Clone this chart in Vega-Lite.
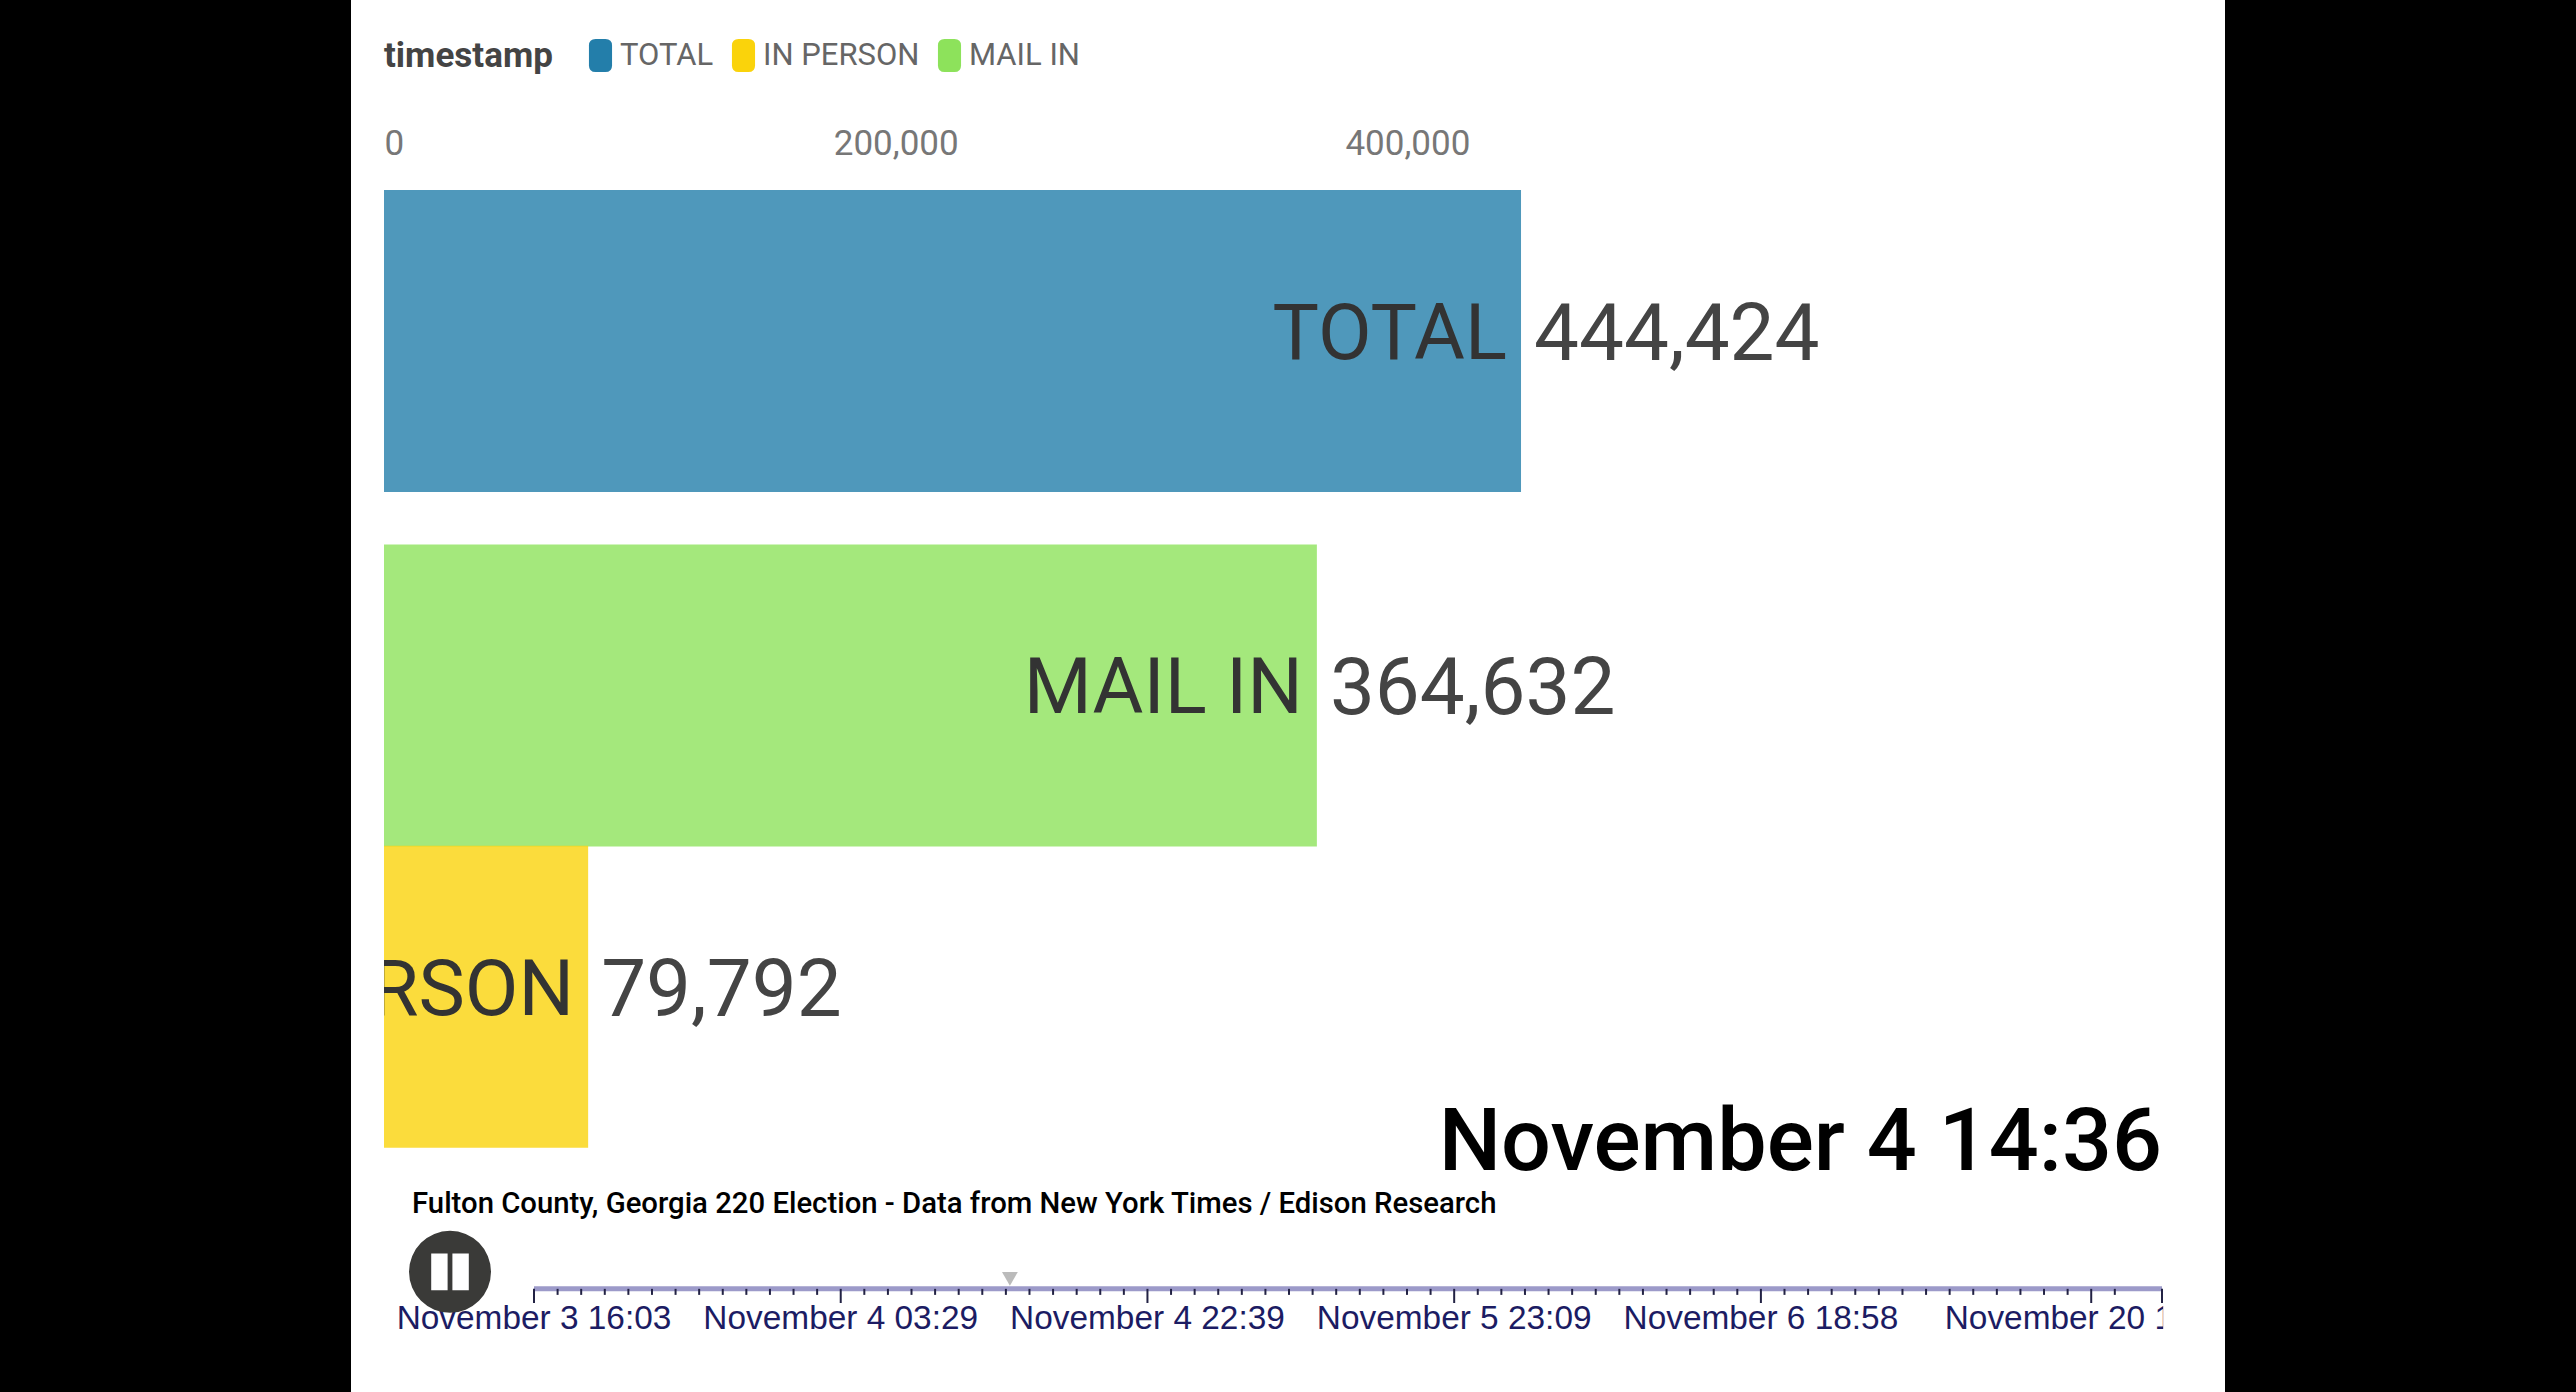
{
"$schema":"https://vega.github.io/schema/vega-lite/v6.json",
"autosize":{"type":"none"},
"width":1874,"height":1392,
"padding":{"left":351,"right":351,"top":0,"bottom":0},
"background":"#000000",
"config":{"font":"Roboto","view":{"fill":"#ffffff","stroke":null}},
"datasets":{
"bars":[
{"timestamp":"TOTAL","votes":444424,"rank":0},
{"timestamp":"MAIL IN","votes":364632,"rank":1},
{"timestamp":"IN PERSON","votes":79792,"rank":1.85}
],
"mask":[{"from":-12899,"to":0,"top":1.4,"bottom":2.3}],
"track":[{"start":0,"end":69,"rank":2.674}],
"ticks":[
{"frame":0,"rank":2.674,"end":2.714,"kind":"major"},{"frame":13,"rank":2.674,"end":2.714,"kind":"major"},{"frame":26,"rank":2.674,"end":2.714,"kind":"major"},{"frame":39,"rank":2.674,"end":2.714,"kind":"major"},{"frame":52,"rank":2.674,"end":2.714,"kind":"major"},{"frame":66,"rank":2.674,"end":2.714,"kind":"major"},{"frame":69,"rank":2.674,"end":2.714,"kind":"major"},
{"frame":1,"rank":2.674,"end":2.691},{"frame":2,"rank":2.674,"end":2.691},{"frame":3,"rank":2.674,"end":2.691},{"frame":4,"rank":2.674,"end":2.691},{"frame":5,"rank":2.674,"end":2.691},{"frame":6,"rank":2.674,"end":2.691},{"frame":7,"rank":2.674,"end":2.691},{"frame":8,"rank":2.674,"end":2.691},{"frame":9,"rank":2.674,"end":2.691},{"frame":10,"rank":2.674,"end":2.691},{"frame":11,"rank":2.674,"end":2.691},{"frame":12,"rank":2.674,"end":2.691},
{"frame":14,"rank":2.674,"end":2.691},{"frame":15,"rank":2.674,"end":2.691},{"frame":16,"rank":2.674,"end":2.691},{"frame":17,"rank":2.674,"end":2.691},{"frame":18,"rank":2.674,"end":2.691},{"frame":19,"rank":2.674,"end":2.691},{"frame":20,"rank":2.674,"end":2.691},{"frame":21,"rank":2.674,"end":2.691},{"frame":22,"rank":2.674,"end":2.691},{"frame":23,"rank":2.674,"end":2.691},{"frame":24,"rank":2.674,"end":2.691},{"frame":25,"rank":2.674,"end":2.691},
{"frame":27,"rank":2.674,"end":2.691},{"frame":28,"rank":2.674,"end":2.691},{"frame":29,"rank":2.674,"end":2.691},{"frame":30,"rank":2.674,"end":2.691},{"frame":31,"rank":2.674,"end":2.691},{"frame":32,"rank":2.674,"end":2.691},{"frame":33,"rank":2.674,"end":2.691},{"frame":34,"rank":2.674,"end":2.691},{"frame":35,"rank":2.674,"end":2.691},{"frame":36,"rank":2.674,"end":2.691},{"frame":37,"rank":2.674,"end":2.691},{"frame":38,"rank":2.674,"end":2.691},
{"frame":40,"rank":2.674,"end":2.691},{"frame":41,"rank":2.674,"end":2.691},{"frame":42,"rank":2.674,"end":2.691},{"frame":43,"rank":2.674,"end":2.691},{"frame":44,"rank":2.674,"end":2.691},{"frame":45,"rank":2.674,"end":2.691},{"frame":46,"rank":2.674,"end":2.691},{"frame":47,"rank":2.674,"end":2.691},{"frame":48,"rank":2.674,"end":2.691},{"frame":49,"rank":2.674,"end":2.691},{"frame":50,"rank":2.674,"end":2.691},{"frame":51,"rank":2.674,"end":2.691},
{"frame":53,"rank":2.674,"end":2.691},{"frame":54,"rank":2.674,"end":2.691},{"frame":55,"rank":2.674,"end":2.691},{"frame":56,"rank":2.674,"end":2.691},{"frame":57,"rank":2.674,"end":2.691},{"frame":58,"rank":2.674,"end":2.691},{"frame":59,"rank":2.674,"end":2.691},{"frame":60,"rank":2.674,"end":2.691},{"frame":61,"rank":2.674,"end":2.691},{"frame":62,"rank":2.674,"end":2.691},{"frame":63,"rank":2.674,"end":2.691},{"frame":64,"rank":2.674,"end":2.691},{"frame":65,"rank":2.674,"end":2.691},{"frame":67,"rank":2.674,"end":2.691}
],
"dates":[
{"frame":0,"rank":2.787,"label":"November 3 16:03"},
{"frame":13,"rank":2.787,"label":"November 4 03:29"},
{"frame":26,"rank":2.787,"label":"November 4 22:39"},
{"frame":39,"rank":2.787,"label":"November 5 23:09"},
{"frame":52,"rank":2.787,"label":"November 6 18:58"}
],
"lastDate":[{"frame":69,"rank":2.787,"label":"November 20 1"}],
"lastMask":[{"from":69.05,"to":71.6,"top":2.72,"bottom":2.82}],
"clock":[{"frame":69,"rank":2.339,"label":"November 4 14:36"}],
"caption":[{"frame":-5.17,"rank":2.461,"label":"Fulton County, Georgia 220 Election - Data from New York Times / Edison Research"}],
"handle":[{"frame":20.17,"rank":2.646}],
"button":[{"frame":-3.56,"rank":2.626}]
},
"layer":[
{"layer":[
{"data":{"name":"bars"},
"mark":{"type":"bar","orient":"horizontal","size":302,"opacity":0.8},
"encoding":{
"x":{"field":"votes","type":"quantitative","scale":{"domain":[-12899,719590],"nice":false,"zero":false},
"axis":{"orient":"top","offset":-161,"values":[0,200000,400000],"labelExpr":"format(datum.value,',')","title":null,"domain":false,"ticks":false,"grid":false,"labelFontSize":35,"labelColor":"#777777","labelFont":"Roboto","labelPadding":0,"labelFlush":false,"labelAlign":{"expr":"datum.value==0?'left':'center'"}}},
"y":{"field":"rank","type":"quantitative","scale":{"domain":[-0.962,2.965],"reverse":true,"nice":false,"zero":false,"padding":0},"axis":null},
"color":{"field":"timestamp","type":"nominal","sort":["TOTAL","IN PERSON","MAIL IN"],
"scale":{"domain":["TOTAL","IN PERSON","MAIL IN"],"range":["#237eaa","#fad30b","#8de25b"]},
"legend":{"orient":"none","legendX":33,"legendY":39,"direction":"horizontal","title":"timestamp","titleOrient":"left","titleFontSize":35,"titleFont":"Roboto","titleFontWeight":700,"titleColor":"#444444","titlePadding":31,"labelFontSize":31,"labelFont":"Roboto","labelColor":"#666666","labelOffset":3,"labelLimit":400,"columnPadding":13,"symbolType":"M-0.7,-0.6Q-0.7,-1 -0.3,-1H0.3Q0.7,-1 0.7,-0.6V0.6Q0.7,1 0.3,1H-0.3Q-0.7,1 -0.7,0.6Z","symbolSize":1089,"symbolOpacity":1,"symbolStrokeWidth":0}}
}},
{"data":{"name":"bars"},
"mark":{"type":"text","align":"right","baseline":"middle","dx":-14,"dy":-5,"fontSize":78,"font":"Roboto","color":"#333333","clip":true},
"encoding":{"x":{"field":"votes","type":"quantitative"},"y":{"field":"rank","type":"quantitative"},"text":{"field":"timestamp"}}},
{"data":{"name":"bars"},
"mark":{"type":"text","align":"left","baseline":"middle","dx":13,"dy":-5,"fontSize":80,"font":"Roboto","color":"#444444"},
"encoding":{"x":{"field":"votes","type":"quantitative"},"y":{"field":"rank","type":"quantitative"},"text":{"field":"votes","format":","}}},
{"data":{"name":"mask"},
"mark":{"type":"rect","fill":"#ffffff"},
"encoding":{"x":{"field":"from","type":"quantitative"},"x2":{"field":"to"},"y":{"field":"top","type":"quantitative"},"y2":{"field":"bottom"}}}
]},
{"layer":[
{"data":{"name":"track"},
"mark":{"type":"rule","color":"#9c9ac9","strokeWidth":5},
"encoding":{"x":{"field":"start","type":"quantitative","scale":{"domain":[0,69],"range":[183,1811],"nice":false,"zero":false},"axis":null},"x2":{"field":"end"},"y":{"field":"rank","type":"quantitative"}}},
{"data":{"name":"ticks"},
"mark":{"type":"rule","color":"#222244","strokeWidth":2},
"encoding":{"x":{"field":"frame","type":"quantitative"},"y":{"field":"rank","type":"quantitative"},"y2":{"field":"end"}}},
{"data":{"name":"handle"},
"mark":{"type":"point","shape":"triangle-down","filled":true,"size":250,"color":"#bbbbbb","opacity":1},
"encoding":{"x":{"field":"frame","type":"quantitative"},"y":{"field":"rank","type":"quantitative"}}},
{"data":{"name":"dates"},
"mark":{"type":"text","align":"center","baseline":"alphabetic","fontSize":33.4,"font":"Liberation Sans","color":"#1c1c63"},
"encoding":{"x":{"field":"frame","type":"quantitative"},"y":{"field":"rank","type":"quantitative"},"text":{"field":"label"}}},
{"data":{"name":"lastDate"},
"mark":{"type":"text","align":"right","baseline":"alphabetic","dx":11,"fontSize":33.4,"font":"Liberation Sans","color":"#1c1c63"},
"encoding":{"x":{"field":"frame","type":"quantitative"},"y":{"field":"rank","type":"quantitative"},"text":{"field":"label"}}},
{"data":{"name":"lastMask"},
"mark":{"type":"rect","fill":"#ffffff"},
"encoding":{"x":{"field":"from","type":"quantitative"},"x2":{"field":"to"},"y":{"field":"top","type":"quantitative"},"y2":{"field":"bottom"}}},
{"data":{"name":"clock"},
"mark":{"type":"text","align":"right","baseline":"alphabetic","fontSize":88,"font":"Roboto","fontWeight":500,"color":"#000000"},
"encoding":{"x":{"field":"frame","type":"quantitative"},"y":{"field":"rank","type":"quantitative"},"text":{"field":"label"}}},
{"data":{"name":"caption"},
"mark":{"type":"text","align":"left","baseline":"alphabetic","fontSize":29.3,"font":"Roboto","fontWeight":500,"color":"#000000"},
"encoding":{"x":{"field":"frame","type":"quantitative"},"y":{"field":"rank","type":"quantitative"},"text":{"field":"label"}}},
{"data":{"name":"button"},
"mark":{"type":"point","shape":"circle","filled":true,"size":6724,"color":"#3a3a38","opacity":1},
"encoding":{"x":{"field":"frame","type":"quantitative"},"y":{"field":"rank","type":"quantitative"}}},
{"data":{"name":"button"},
"mark":{"type":"point","shape":"M-0.47,-0.46H-0.06V0.46H-0.47Z M0.06,-0.46H0.47V0.46H0.06Z","filled":true,"size":6400,"color":"#ffffff","opacity":1},
"encoding":{"x":{"field":"frame","type":"quantitative"},"y":{"field":"rank","type":"quantitative"}}}
]}
],
"resolve":{"scale":{"x":"independent"},"axis":{"x":"independent"}}
}
